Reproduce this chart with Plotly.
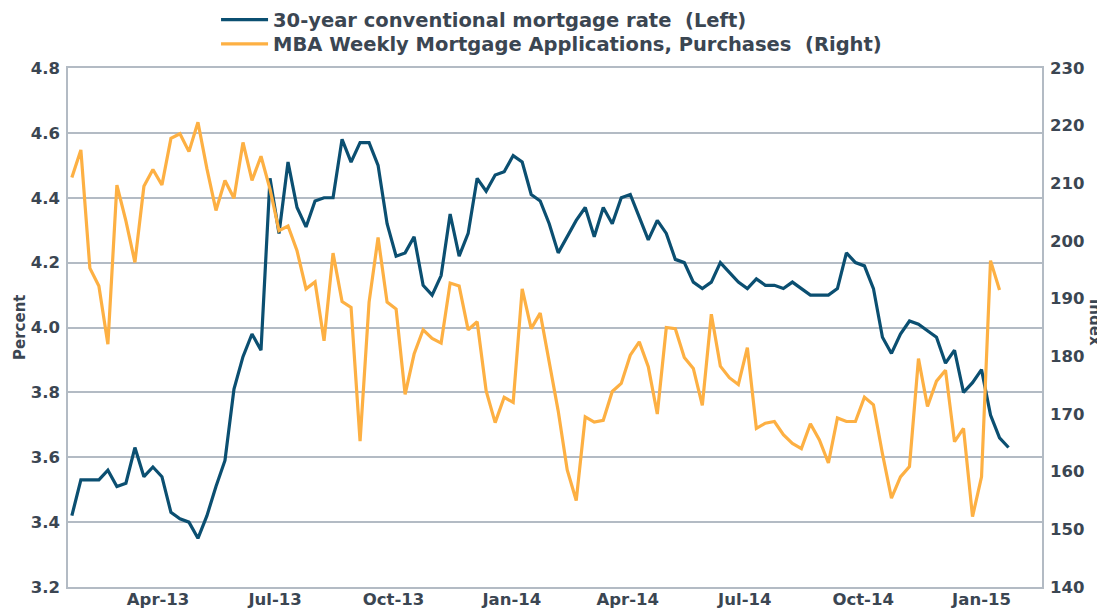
import pandas as pd
import plotly.graph_objects as go

start_date = "2013-01-24"

mortgage_rate = [
    3.42, 3.53, 3.53, 3.53, 3.56, 3.51, 3.52, 3.63, 3.54, 3.57,
    3.54, 3.43, 3.41, 3.40, 3.35, 3.42, 3.51, 3.59, 3.81, 3.91,
    3.98, 3.93, 4.46, 4.29, 4.51, 4.37, 4.31, 4.39, 4.40, 4.40,
    4.58, 4.51, 4.57, 4.57, 4.50, 4.32, 4.22, 4.23, 4.28, 4.13,
    4.10, 4.16, 4.35, 4.22, 4.29, 4.46, 4.42, 4.47, 4.48, 4.53,
    4.51, 4.41, 4.39, 4.32, 4.23, 4.28, 4.33, 4.37, 4.28, 4.37,
    4.32, 4.40, 4.41, 4.34, 4.27, 4.33, 4.29, 4.21, 4.20, 4.14,
    4.12, 4.14, 4.20, 4.17, 4.14, 4.12, 4.15, 4.13, 4.13, 4.12,
    4.14, 4.12, 4.10, 4.10, 4.10, 4.12, 4.23, 4.20, 4.19, 4.12,
    3.97, 3.92, 3.98, 4.02, 4.01, 3.99, 3.97, 3.89, 3.93, 3.80,
    3.83, 3.87, 3.73, 3.66, 3.63,
]

mba_purchases = [
    211.0, 215.8, 195.3, 192.2, 182.1, 209.7, 203.5, 196.3, 209.5, 212.4,
    209.7, 217.8, 218.6, 215.5, 220.6, 212.5, 205.3, 210.5, 207.4, 217.1,
    210.5, 214.7, 209.0, 201.8, 202.6, 198.3, 191.7, 192.9, 182.7, 197.9,
    189.5, 188.5, 165.3, 189.4, 200.6, 189.4, 188.2, 173.4, 180.4, 184.6,
    183.1, 182.3, 192.7, 192.2, 184.6, 186.0, 174.0, 168.5, 172.9, 172.0,
    191.7, 184.8, 187.5, 178.8, 170.5, 160.3, 155.0, 169.5, 168.6, 168.9,
    173.9, 175.3, 180.2, 182.5, 178.2, 170.0, 185.0, 184.8, 179.8, 177.9,
    171.5, 187.3, 178.3, 176.3, 175.1, 181.5, 167.5, 168.4, 168.7, 166.4,
    164.9, 164.0, 168.3, 165.5, 161.5, 169.3, 168.7, 168.7, 172.9, 171.6,
    163.1, 155.4, 159.1, 160.9, 179.6, 171.3, 175.7, 177.6, 165.2, 167.5,
    152.2, 159.1, 196.6, 191.5,
]

tick_dates = ["2013-04-01", "2013-07-01", "2013-10-01", "2014-01-01",
              "2014-04-01", "2014-07-01", "2014-10-01", "2015-01-01"]
tick_labels = ["Apr-13", "Jul-13", "Oct-13", "Jan-14",
               "Apr-14", "Jul-14", "Oct-14", "Jan-15"]

dates_rate = pd.date_range(start_date, periods=len(mortgage_rate), freq="7D")
dates_mba = pd.date_range(start_date, periods=len(mba_purchases), freq="7D")

NAVY = "#0b4f71"
ORANGE = "#fdb043"
TEXT = "#3b4652"
GRID = "#b3bbc4"
FONT = "DejaVu Sans"

fig = go.Figure()
fig.add_trace(go.Scatter(
    x=dates_mba, y=mba_purchases, mode="lines", yaxis="y2",
    name="MBA Weekly Mortgage Applications, Purchases  (Right)",
    line=dict(color=ORANGE, width=3.2), legend="legend2",
))
fig.add_trace(go.Scatter(
    x=dates_rate, y=mortgage_rate, mode="lines", yaxis="y",
    name="30-year conventional mortgage rate  (Left)",
    line=dict(color=NAVY, width=3.2), legend="legend",
))

tick_font = dict(family=FONT, size=16.5, color=TEXT, weight="bold")
title_font = dict(family=FONT, size=15, color=TEXT, weight="bold")
legend_font = dict(family=FONT, size=19.5, color=TEXT, weight="bold")

fig.update_layout(
    width=1097, height=601,
    margin=dict(l=60, r=63, t=60, b=22, autoexpand=False),
    paper_bgcolor="white", plot_bgcolor="white",
    showlegend=True,
    legend=dict(
        x=0.152, y=1.0925, xanchor="left", yanchor="middle",
        font=legend_font, bgcolor="rgba(0,0,0,0)", itemwidth=47,
    ),
    legend2=dict(
        x=0.152, y=1.046, xanchor="left", yanchor="middle",
        font=legend_font, bgcolor="rgba(0,0,0,0)", itemwidth=47,
    ),
    xaxis=dict(
        type="date",
        range=["2013-01-21", "2015-02-17"],
        tickvals=tick_dates, ticktext=tick_labels,
        tickfont=tick_font, showgrid=False,
        showline=True, linecolor=GRID, linewidth=1.5, mirror=True,
        ticks="", zeroline=False, ticklabelstandoff=-4,
    ),
    yaxis=dict(
        range=[3.2, 4.8], dtick=0.2, tick0=3.2, tickformat=".1f",
        tickfont=tick_font, showgrid=True, gridcolor=GRID, gridwidth=1.5,
        showline=True, linecolor=GRID, linewidth=1.5,
        ticks="outside", ticklen=3, tickcolor="rgba(0,0,0,0)", zeroline=False,
    ),
    yaxis2=dict(
        range=[140, 230], dtick=10, tick0=140, overlaying="y", side="right",
        tickfont=tick_font, showgrid=False,
        showline=True, linecolor=GRID, linewidth=1.5,
        ticks="outside", ticklen=3, tickcolor="rgba(0,0,0,0)", zeroline=False,
    ),
    annotations=[
        dict(text="Percent", textangle=-90, xref="paper", yref="paper",
             x=-0.0498, y=0.5, xanchor="center", yanchor="middle",
             showarrow=False, font=title_font),
        dict(text="Index", textangle=90, xref="paper", yref="paper",
             x=1.054, y=0.51, xanchor="center", yanchor="middle",
             showarrow=False, font=title_font),
    ],
)

fig.write_html("out.html")
